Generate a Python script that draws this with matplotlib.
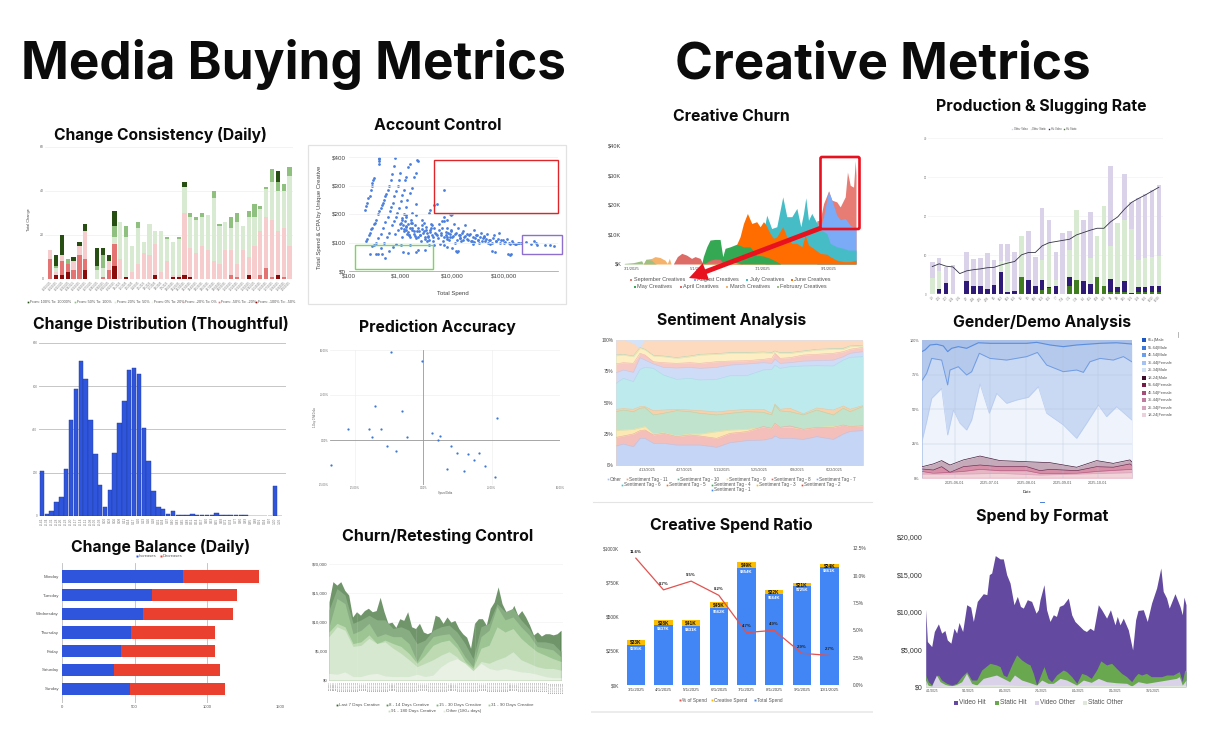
import matplotlib
matplotlib.use("Agg")
import matplotlib.pyplot as plt
from matplotlib.patches import FancyBboxPatch, Rectangle
import numpy as np
import pandas as pd

W, H = 1214, 751
plt.rcParams['font.family'] = ['Liberation Sans', 'DejaVu Sans']

# ---- Change Consistency (bottom to top segments)
cc_darkred = [0,2,2,3,0,0,4,0,0,0,0,6,0,1,0,0,0,0,2,0,0,1,1,2,1,0,0,0,0,0,0,0,0,0,2,0,0,0,0,2,0,0]
cc_red     = [9,0,6,4,4,11,5,0,0,1,4,10,0,0,0,0,0,0,0,0,0,0,0,0,0,0,0,0,0,0,0,2,1,0,0,0,2,5,1,0,1,0]
cc_pink    = [4,1,3,0,4,4,13,0,0,0,4,0,9,0,3,7,12,11,14,3,8,1,1,28,13,12,15,13,8,7,13,11,6,13,8,15,20,23,26,20,22,15]
cc_lgreen  = [0,2,0,0,0,0,0,0,4,4,0,3,17,18,12,16,5,14,6,19,10,15,16,12,14,15,13,16,29,17,13,10,19,11,18,13,10,13,17,18,17,32]
cc_mgreen  = [0,1,0,2,0,0,0,0,2,6,0,5,0,5,0,3,0,0,0,0,1,0,1,0,2,1,2,0,3,1,0,5,4,0,3,6,1,1,6,4,3,4]
cc_dgreen  = [0,5,9,0,2,2,3,0,8,3,3,7,0,0,0,0,0,0,0,0,0,0,0,2,0,0,0,0,0,0,0,0,0,0,0,0,0,0,0,5,0,0]
cc_labels = [d.strftime('%-m/%-d/%Y') for d in pd.date_range('2025-08-20', periods=42)]
cc_legend = ['From: 100% To: 10000%', 'From: 50% To: 100%', 'From: 20% To: 50%', 'From: 0% To: 20%',
             'From: -20% To: 0%', 'From: -50% To: -20%', 'From: -100% To: -50%']

# ---- Account Control (spend, cpa)
ac_spend = [205,215,225,235,250,265,275,285,295,305,375,385,390,380,
            215,225,240,255,270,285,300,320,340,365,385,410,430,450,475,500,530,560,600,640,680,730,790,
            280,330,370,410,450,500,560,610,660,700,760,810,880,930,980,
            480,540,600,680,740,800,860,930,1000,1080,1150,1210,1300,1400,1500,
            780,880,960,1050,1150,1250,1350,1500,1650,1800,1950,2100,2200,
            1000,1100,1150,1200,1250,1300,1350,1400,1500,1550,1600,1700,1800,1900,2000,2100,2200,2400,2500,2600,
            2800,3000,3100,3300,3500,3700,4000,4300,4500,4800,5200,5500,6000,6500,7000,7500,8000,8500,9000,9500,
            10000,11000,11500,12000,13000,14000,15000,16000,17000,18000,20000,22000,24000,26000,28000,30000,
            33000,36000,40000,44000,48000,52000,58000,65000,72000,80000,90000,100000,115000,130000,150000,170000,200000,
            5000,4500,3800,3500,7000,8000,10000,9000,6800,
            260,300,340,370,420,440,500,600,700,1100,1400,2000,2200,3000,3500,4500,800,1000,1500,
            10000,12000,12500,13000,8000,7000,60000,68000,120000,135000,140000,
            270000,330000,380000,420000,440000,640000,800000,950000,
            1300,1700,2300,2900,3400,4100,1050,1250,1450,1650,2000,2600,3200,3900,5800,6300,7800,9300,14500,19000,25000,31000,42000,55000,
            1000,1080,1180,1280,1380,1480,1580,1680,1780,1880,1980,2150,2350,2550,2750,2950,3150,3350,3650,3950,4250,4650,5050,
            5450,5950,6450,6950,7450,7950,8450,8950,9450,10500,11500,12500,13500,14500,15500,16500,18000,19500,21000,23000,25000,
            27000,29000,32000,35000,38000,41000,45000,50000,55000,62000,70000,78000,86000,95000,105000,125000,145000,165000,185000,220000]
ac_cpa = [215,228,240,255,262,285,300,310,320,325,375,385,392,395,
          105,112,125,135,148,150,165,170,180,200,210,220,230,240,250,262,270,285,300,320,340,370,395,
          88,100,115,130,150,172,190,210,225,240,262,280,300,320,345,
          100,120,135,160,175,190,205,220,245,265,285,320,330,365,375,
          130,145,165,180,200,225,250,275,290,330,345,390,385,
          150,160,140,175,155,145,130,165,150,120,180,145,130,160,115,140,150,125,105,160,
          140,120,155,135,110,145,125,105,150,130,115,165,135,105,175,125,150,110,130,195,
          120,165,100,135,150,115,105,140,120,160,110,130,105,145,115,125,
          100,135,115,105,130,110,100,125,105,135,110,100,112,95,100,95,100,
          235,230,215,205,190,180,200,200,285,
          60,90,60,60,80,60,45,70,85,65,62,65,75,75,90,90,95,90,90,
          80,70,65,70,85,90,70,65,60,55,58,
          103,95,105,100,90,92,90,88,
          195,170,140,170,120,160,120,190,125,205,235,180,105,165,95,175,120,145,125,130,95,110,120,95,
          170,185,148,158,138,128,168,152,142,122,198,118,128,148,132,112,145,122,138,152,118,135,125,
          145,128,152,118,138,112,132,120,142,122,130,110,125,115,135,108,122,112,128,105,118,
          102,125,110,118,104,122,112,98,108,115,104,112,100,108,102,98,105,96,98,97]

# ---- Change Distribution
cd_counts = [206,8,20,62,85,215,445,585,716,635,445,288,143,39,121,290,431,531,677,685,657,406,253,113,39,33,
             6,20,5,3,2,8,1,1,2,1,14,2,1,3,1,1,1,0,0,0,0,0,136,0]
cd_labels = ['-0.41','-0.34','-0.31','-0.28','-0.26','-0.23','-0.20','-0.17','-0.14','-0.11','-0.08','-0.06','-0.03',
             '0.00','0.03','0.06','0.08','0.11','0.14','0.17','0.20','0.23','0.26','0.28','0.31','0.34','0.37','0.40',
             '0.43','0.45','0.48','0.51','0.54','0.57','0.60','0.63','0.65','0.68','0.71','0.74','0.77','0.80','0.83',
             '0.85','0.88','0.91','0.94','0.97','1.00','1.06']

# ---- Prediction Accuracy
pa_spend_delta = [-11.95,-0.49,-17.8,-7.8,26.8,-27.6,-20.0,-15.7,-19.0,-5.9,3.0,6.0,5.4,-13.3,10.0,-9.9,12.4,16.2,20.4,18.4,-33.8,22.4,8.5,14.8,26.2]
pa_cpa_delta = [48.9,44.1,18.7,16.3,12.4,5.9,6.1,6.3,1.5,1.5,3.7,2.0,0,-3.3,-3.3,-6.1,-7.4,-7.6,-7.4,-11.3,-14.1,-14.3,-16.3,-17.2,-20.7]

# ---- Change Balance
cb_days = ['Monday','Tuesday','Wednesday','Thursday','Friday','Saturday','Sunday']
cb_increases = [835,622,558,476,405,361,467]
cb_decreases = [521,581,620,574,645,727,653]

# ---- Churn/Retesting Control (top edge of each layer, $)
rt_last7 = [13500,17000,16400,17000,15500,14700,10900,11800,11200,12000,12400,11800,12000,14300,11800,9800,10000,9100,10600,10300,
            11800,9200,8900,9800,8300,8000,8300,11200,10900,9800,10900,10000,10300,8900,8000,7400,5500,9800,10600,10600,
            9500,12400,13500,16100,13200,11800,11500,12900,11200,12000,10900,9500,7800,8300,7600,8000,8000,7800,8000,8600]
rt_8_14 = [12100,15800,14700,9800,10400,11200,10400,10400,8900,9200,8600,6300,6900,8600,9200,9500,8300,6300,3700,9200,9800,13200,11800,12400,10400,8900,6600,6600,6300,4900]
rt_15_30 = [9200,14100,13200,8000,8600,9800,7500,8000,7500,7500,6300,3200,5800,7500,7800,8000,6300,4000,2300,7500,8600,12700,10400,10900,9200,7800,5800,5500,5200,4000]
rt_31_90 = [8300,9800,9200,6300,6600,7800,6300,6900,6300,5800,4600,2900,4300,6000,6600,6900,5500,3200,2000,5500,6000,9200,8300,8900,7200,6000,4900,4300,3700,3200]
rt_91_180 = [7500,9200,8600,5800,6000,7200,6300,6600,5500,4600,3500,2300,2900,3500,4300,4900,4000,2300,1600,3200,2900,3500,4000,4900,3500,2900,2300,2000,2000,1700]
rt_other = [1150,1000,1400,600,600,1000,1150,700,600,600,600,1000,600,850,2300,3200,3700,2900,1600,2900,2000,1700,2000,1700,1400,1300,1000,600,400,400]
rt_labels = [d.strftime('%-m/%-d/%Y') for d in pd.date_range('2025-03-01', periods=120, freq='2D')]
rt_legend = ['Last 7 Days Creative','8 - 14 Days Creative','15 - 30 Days Creative','31 - 90 Days Creative','91 - 180 Days Creative','Other (180+ days)']

# ---- Creative Churn (day, top edge in $K)
feb_d = [0,8.4,16.2,17.8,20.3,25.6,28.8,30.3]
feb_k = [.2,.45,1.1,0,1.6,1.3,.2,0]
mar_d = [17.8,20.3,25.6,28.8,33.4,38.1,40.3,42.2,43.8,61.6,74,86.6,102,110]
mar_k = [0,1.6,1.9,2.5,2.2,1.3,.2,1.9,0,0,.2,.2,.55,0]
apr_d = [45.9,49.7,53.8,58.4,63,66.3,71,73.4,75.6,80.3,85,89.7,92.2,99,105,111.6]
apr_k = [0,2.5,3.6,3,1.9,2.5,1.9,.2,.2,1.3,1.7,1.6,.45,.2,.45,0]
may_d = [72.5,74,77.2,80.3,85,89.7,92.2,94.4,99,105.3,111.6,117.8,124,130.3,136.6,142.8,146.6]
may_k = [0,2.5,5.8,8.1,8.3,8.3,2.5,5.3,5.8,6.7,5.8,5.8,3,2.7,1.9,.8,0]
jun_d = [105.3,108.4,111.6,115.3,119.4,124,127.2,130.3,131.9,136.6,139.7,142.8,148.4,152.2,156.9,161.6,166.3,169.4,172.5,177.2,183.4,189.7,192.8,199,205.3,211.6,217]
jun_k = [6.7,9.2,13.7,17.1,13.7,14.3,12.6,14.3,13.7,10.3,8.7,9.2,12.6,9.2,7,7,5.8,9.8,6.4,5.3,3.6,3.3,2.5,1.3,.8,.8,1.3]
jul_d = [131.9,133.4,138,142.8,148.4,152.2,156.9,161.6,165.3,167.8,170,172.5,175.6,179.7,183.4,189.7,192.8,199,205.3,210,217]
jul_k = [13.7,16.5,12,12.6,22.7,16,16,18.8,12.6,17.1,22.4,14.8,17.1,14.3,11.7,10.3,7,5.8,5.3,4.7,4.7]
aug_d = [180.3,183.4,186.6,191.3,194.4,199,202.2,206.9,211.6,217]
aug_k = [14.3,12,16,24.7,21.6,16.5,15,15.4,13.1,12]
sep_d = [180.3,183.4,186.6,191.3,194.4,199,202.2,206.9,209,211.6,214.7,216.3,217]
sep_k = [14.6,14.8,20.4,24.7,21.6,21,19.3,22.7,31.1,26.6,26,35,30]

# ---- Production & Slugging Rate
ps_hit_static = [0,.4,0,0,0,0,0,0,0,0,0,0,0,4.5,0,0,1.2,1.5,0,0,2.1,3.6,0,0,4.3,2.1,.7,.7,.7,0,.7,.7,.7,.7]
ps_hit_video  = [0,.9,2.8,0,0,3.4,2.1,2.0,1.3,2.4,5.8,.7,.9,0,3.7,2.1,2.4,.4,2.0,0,2.2,0,3.3,2.6,0,0,3.2,1.1,2.6,.3,1.1,1.2,1.3,1.4]
ps_other_static = [4.1,4.6,0,0,0,0,0,0,0,0,2.7,7.7,0,10.4,0,0,5.2,10.9,1.7,0,7,18.1,0,6.6,10.6,20.5,8.5,16.5,15.8,16.5,7,7.3,7.5,7.6]
ps_other_video = [4.1,3.5,4.3,7.5,0,7.5,6.9,7.2,9.3,6.4,4.3,4.5,10,0,12.4,7.5,13.4,6.3,7,15.6,5,0,15.7,11.8,0,0,20.4,0,11.7,6.8,15.8,16.4,17.2,18.3]
ps_line = [7.1,7.8,7.2,7.0,5.3,6.0,6.3,6.5,6.8,6.9,7.5,8.0,8.4,10.1,10.7,10.7,12.4,13.2,13.5,13.8,14.1,15.2,15.8,16.4,16.9,16.9,18.6,19.8,21.8,23.5,24.5,25.4,26.4,27.4]
ps_labels = [d.strftime('%-m/%-d') for d in pd.date_range('2025-03-03', periods=34, freq='7D')]

# ---- Sentiment Analysis (day, top edge of each tag in %)
se_days = [0,2.75,6.5,9,10.9,14,17.75,22.75,27.75,31.5,37.75,42.75,49,55.25,58.4,59.6,61.5,65.25,70.25,75.25,81.5,85.25,87.75,92.5]
se_tag1 = [15.4,17,14.9,21.5,21.5,17.6,17.6,16.2,16.2,16.2,14.4,18.1,19.7,20.2,21.5,23.4,21.5,21.5,20.7,22.9,20.7,25,27.1,27.7]
se_tag2 = [22.3,23.4,25,27.7,28.2,24.2,25.5,22.9,24.2,23.4,21.5,25.5,26.9,30.9,29.5,33.5,30.3,31.4,28.7,30.3,30.3,32.2,30.9,31.6]
se_tag3 = [27.7,28.2,28.7,30,30.9,25,26,23.4,25,25,26.9,28.2,28.7,30.3,29.5,33,30.3,30.3,28.7,30.3,30.9,32.2,30.9,31.6]
se_tag4 = [42.8,44.1,42.8,45.5,46,40.2,41.5,43.6,42.8,41.5,40.2,41.5,42.8,42.3,40.2,48.1,43.4,42.8,40.2,44.1,40.2,45.5,42.8,46.8]
se_tag5 = [44.7,45.2,44.7,46.8,46.8,43.6,44.1,44.7,44.1,43.6,42.6,43.6,44.7,44.7,41.5,48.9,44.7,45.5,41,45.7,44.1,47.3,44.7,47.6]
se_tag6 = [65.4,69.4,66.8,76.6,78.2,77.4,72.1,68.6,69.4,68.1,68.6,71.5,71.5,76.1,76.6,80,77.4,78.7,79.3,79.5,79.3,84,86.2,86.7]
se_tag7 = [73.9,76.1,74.2,85.9,84,80.9,78.2,77.7,78.2,77.4,78.2,80,80.9,81.9,81.4,84.8,81.4,81.9,83.2,83.5,84,86.7,89.4,90.7]
se_tag8 = [80.9,81.9,81.4,89.4,88,82.7,81.9,81.4,81.9,81.4,82.7,83.2,83.5,84.6,85.4,89.4,85.4,85.9,88,88.6,89.4,90.7,92.6,94.1]
se_tag9 = [87.5,88,86.7,93.4,92,87.2,86.7,85.4,86.7,88,88.6,89.4,89.4,89.9,89.4,90.7,89.4,89.4,90.7,92,92.6,92.6,94.7,95.2]
se_tag10 = [88,88.5,87.2,93.9,92.5,87.7,87.2,85.9,87.2,88.5,89.1,89.9,89.9,90.4,89.9,91.2,89.9,89.9,91.2,92.5,93.1,93.4,95.2,95.7]
se_tag11 = [100,100,97,92.5,100,100,100,100,100,100,100,100,100,100,100,100,100,100,100,100,100,100,100,100]
se_other = [100]*24
se_ticklabels = ['4/13/2025','4/27/2025','5/11/2025','5/25/2025','6/8/2025','6/22/2025']
se_legend1 = ['Other','Sentiment Tag - 11','Sentiment Tag - 10','Sentiment Tag - 9','Sentiment Tag - 8','Sentiment Tag - 7']
se_legend2 = ['Sentiment Tag - 6','Sentiment Tag - 5','Sentiment Tag - 4','Sentiment Tag - 3','Sentiment Tag - 2']

# ---- Gender/Demo Analysis (days from 2025-06-01, top edge %)
gd_l1_d = [-27.6,-25.3,-21,-15.3,-9.7,-6,-2.6,3.1,10.2,20.2,30.1,44.3,61.4,69.9,81.3,92.6,104,112.5,123.9,138,150.9]
gd_l1 = [91.8,92.8,96.4,96.9,95.7,91.6,94,95.2,94,98,97.6,97.6,97.6,98.3,96.4,95.2,96.4,96.9,97.6,98,97.1]
gd_l2_d = [-27.6,-23.9,-19.6,-11.1,-6,-4,3.1,10.2,14.5,21,30.1,44.3,61.4,70.5,78.4,92.6,104,109.7,115.3,123.9,135.2,143.8,150.9]
gd_l2 = [71,75.9,86.7,85.5,67.5,78.3,80.7,74.7,77.1,90.4,86.7,85.5,88,91,81.9,77.1,78.3,76.6,84.3,86.7,85.5,88,84.3]
gd_l3_d = [-27.6,-23.9,-19.6,-11.1,-6,-1.1,4.5,10.2,14.5,21.6,29.5,35.8,44.3,52.8,62.8,71.3,78.4,92.6,104,112.5,122.4,129.5,138,150.9]
gd_l3 = [27.7,41,57.8,65,31.3,49.4,39.8,34.9,42.2,68.2,47,61.4,54.2,56.6,58.6,66.3,47,38.6,28.9,39.8,53,44.6,51.8,42.2]
gd_m1_d = [-27.6,-18.2,-11.1,-4,7.4,21.6,38.6,61.4,81.3,104,121,135.2,149.4,150.9]
gd_m1 = [8.4,10.4,12.8,9.6,13.3,16.1,12.8,12,11.3,8,12.8,10.8,13.3,12]
gd_m2_d = [-27.6,-18.2,-11.1,-4,7.4,21.6,38.6,61.4,72.8,81.3,104,121,135.2,149.4,150.9]
gd_m2 = [6.7,6,8.4,4.3,8.4,9.6,8.4,8.4,5.5,6.5,5.5,8.4,8,10.4,9.5]
gd_m3_d = [-27.6,-18.2,7.4,21.6,38.6,61.4,72.8,104,121,150.9]
gd_m3 = [5,3.6,5,6.5,5.5,5.5,3.6,3.6,5,6.5]
gd_m4_d = [-27.6,7.4,38.6,72.8,150.9]
gd_m4 = [3.1,3.1,3.6,2.4,4.1]
gd_ticklabels = ['2025-06-01','2025-07-01','2025-08-01','2025-09-01','2025-10-01']
gd_legend = ['65+|Male','55-64|Male','45-54|Male','35-44|Female','25-34|Male','18-24|Male','55-64|Female','45-54|Female','35-44|Female','25-34|Female','18-24|Female']

# ---- Creative Spend Ratio
cs_months = ['3/1/2025','4/1/2025','5/1/2025','6/1/2025','7/1/2025','8/1/2025','9/1/2025','10/1/2025']
cs_total = [295,437,431,562,854,664,725,861]
cs_creative = [33,38,41,45,49,32,21,24]
cs_pct = [11.6,8.7,9.5,8.2,4.8,5.0,2.9,2.7]
cs_pct_labels = ['11.6%','8.7%','9.5%','8.2%','4.7%','4.9%','2.9%','2.7%']

# ---- Spend by Format (day, top edge $)
sf_hit_d = [0,1.4,5,7.2,10.6,13.3,16,18,21,23.6,25.8,27.8,30.8,34.2,37.5,39.7,43,48,51,53,55,58,62,64.7,67.5,70.3,73.6,76.4,79,81.4,
            84.7,88.3,92,93.9,95.3,98.6,100.8,103.6,106.4,109,111.4,114.7,118.9,121.7,124.4,128.6,131.4,134,137,140,143.9,146.7,150.8,
            154,157.8,159.7,162,164.7,168.9,172.5,175,177,181.4,184.7,188.3,192.5,196,198,200.8,203,207.8,212,213.9,215.3,217]
sf_hit = [10350,6020,5350,7360,8380,7140,7490,6240,5800,7800,7140,8560,7360,10930,10610,8700,11370,12400,12270,14940,15160,17480,17040,17040,14940,13830,10930,12040,10700,10480,
          11600,11370,9810,10260,11600,13600,10260,8700,9590,9370,10700,10930,11820,9590,8700,8030,7580,7360,7800,7490,10930,10260,9140,
          10260,8250,9370,8250,9140,7580,4910,8920,10170,10260,8700,11150,13160,15830,12710,11820,10480,12400,10700,9590,11950,10930]
sf_static_d = [0,2.2,5,7.8,10.6,13.3,17.5,21.7,25.8,30,34.2,38.3,42.5,46.7,51,53.6,59,62,64.7,67.5,71.7,75.8,80,84.2,87,89.7,92.5,95.3,98.6,102,
               105,109,114.7,117.5,121.7,126,130,134,138,142.5,146,150.8,155,159,163.3,167.5,171.7,174.5,177,180,184,188,192.5,196.7,200.8,206.4,211.4,213.9,216,217]
sf_static = [1560,670,220,1110,1560,890,450,220,450,1340,2010,890,890,2230,2790,3120,2900,2680,1560,1340,2900,4240,3570,3120,2900,1780,220,1340,2680,1110,
             670,1560,2230,2010,1340,450,1780,1560,1110,2230,3440,2900,3120,2450,1780,1340,670,1340,1780,1560,1780,1340,1340,1340,1560,1560,2010,670,2230,2010]
sf_voth_d = [0,2.2,5,9,12,16,21.7,25.8,30,34,38.3,42.5,48,53.6,59,64.7,70,74,80,87,92.5,96.7,102,106.4,112,117.5,125.8,131.4,138,143.9,150.8,159,167.5,171.7,177,184,192.5,200.8,209,211.4,213.9,217]
sf_voth = [890,90,90,1560,670,310,90,310,670,1780,450,220,1110,1340,1560,1110,670,1560,890,530,220,890,450,450,1110,890,220,890,580,1110,670,530,450,90,670,450,670,890,1110,1340,220,890]
sf_soth_d = [0,5,30,60,80,100,140,180,217]
sf_soth = [300,50,200,300,150,100,200,100,200]
sf_ticklabels = ['4/1/2025','5/1/2025','6/1/2025','7/1/2025','8/1/2025','9/1/2025','10/1/2025']

fig = plt.figure(figsize=(W/100, H/100), dpi=100, facecolor='white')


def add_ax(l, t, r, b):
    ax = fig.add_axes([l/W, 1-b/H, (r-l)/W, (b-t)/H])
    ax.set_facecolor('none')
    for s in ax.spines.values():
        s.set_visible(False)
    ax.tick_params(length=0)
    return ax


# overlay in picture pixels, for titles, legends and marked boxes
ov = fig.add_axes([0, 0, 1, 1], zorder=20)
ov.set_xlim(0, W)
ov.set_ylim(H, 0)
ov.axis('off')


def title(txt, cx, cy, width):
    t = ov.text(cx, cy, txt, ha='center', va='center', fontsize=20, weight='bold',
                family=['Inter', 'DejaVu Sans'], color='#0b0b0b')
    w = t.get_window_extent(fig.canvas.get_renderer()).width
    t.set_fontsize(20*width/w)


def legend(items, size, tcol='#555555', ms=1.6, gap=None):
    # items: label, colour, marker x, y
    for lab, col, x, y in items:
        ov.plot([x], [y], 's', color=col, ms=ms, mew=0)
        ov.text(x+(gap if gap else ms*1.6), y, lab, fontsize=size, color=tcol, va='center', ha='left')


titles = [('Media Buying Metrics', 293.5, 65, 547), ('Creative Metrics', 883, 65, 416),
          ('Change Consistency (Daily)', 160.7, 134.7, 213), ('Account Control', 437.3, 125.7, 128),
          ('Change Distribution (Thoughtful)', 160.7, 323.7, 256), ('Prediction Accuracy', 437, 327.3, 157),
          ('Change Balance (Daily)', 160.3, 546.7, 179), ('Churn/Retesting Control', 437.3, 536.7, 192),
          ('Creative Churn', 731.7, 116.7, 117), ('Production & Slugging Rate', 1041.7, 106.7, 211),
          ('Sentiment Analysis', 731.7, 320.7, 149), ('Gender/Demo Analysis', 1041.7, 322.7, 178),
          ('Creative Spend Ratio', 731.7, 525.7, 163), ('Spend by Format', 1041.7, 516.7, 133)]
for t in titles:
    title(*t)

# ---------------- Change Consistency
ax = add_ax(45, 147, 293, 279)
x = np.arange(42)
bottom = np.zeros(42)
cc_cols = ['#8b0a0a', '#e47474', '#f6cccc', '#d8ebd2', '#8fc080', '#274e13']
for vals, c in zip([cc_darkred, cc_red, cc_pink, cc_lgreen, cc_mgreen, cc_dgreen], cc_cols):
    ax.bar(x, vals, 0.72, bottom=bottom, color=c)
    bottom += np.array(vals)
ax.set_xlim(-0.9, 41.6)
ax.set_ylim(0, 60)
ax.set_yticks([0, 20, 40, 60])
ax.set_yticklabels(['0', '20', '40', '60'], fontsize=2.5, color='#666666')
ax.grid(axis='y', color='#efefef', lw=0.5)
ax.set_axisbelow(True)
ax.set_xticks(x)
ax.set_xticklabels(cc_labels, fontsize=1.9, color='#777777', rotation=45, ha='right', rotation_mode='anchor')
ax.tick_params(pad=1)
ov.text(29, 220, 'Total Change', fontsize=2.8, rotation=90, ha='center', va='center', color='#444444')
legend(list(zip(cc_legend, ['#274e13', '#8fc080', '#d8ebd2', '#eef5ea', '#f6cccc', '#e47474', '#8b0a0a'],
                [28.3, 75, 115, 151.7, 183.3, 219.3, 256], [301.7]*7)), 2.7, ms=1.2)

# ---------------- Account Control
ov.add_patch(Rectangle((308.3, 145), 257.7, 159.3, fc='none', ec='#e2e2e2', lw=0.9))
ax = add_ax(349, 157, 558, 271)
ax.scatter(ac_spend, ac_cpa, s=4, color='#4a7fdc', lw=0)
ax.set_xscale('log')
ax.set_xlim(100, 10**(2+(775-147)/155))
ax.set_ylim(0, 400)
ax.minorticks_off()
ax.set_xticks([100, 1000, 10000, 100000])
ax.set_xticklabels(['$100', '$1,000', '$10,000', '$100,000'], fontsize=4.5, color='#444444')
ax.set_yticks([0, 100, 200, 300, 400])
ax.set_yticklabels(['$0', '$100', '$200', '$300', '$400'], fontsize=4.5, color='#444444')
ax.grid(axis='y', color='#efefef', lw=0.5)
ax.spines['bottom'].set_visible(True)
ax.spines['bottom'].set_color('#999999')
ax.spines['bottom'].set_linewidth(0.5)
ax.tick_params(pad=2)
ov.text(453, 293, 'Total Spend', fontsize=4.3, ha='center', va='center', color='#444444')
ov.text(319, 217, 'Total Spend & CPA by Unique Creative', fontsize=4.3, rotation=90, ha='center', va='center', color='#444444')
ov.add_patch(Rectangle((434, 160), 123.7, 53.3, fc='none', ec='#e0252a', lw=1))
ov.add_patch(Rectangle((355.3, 245), 78, 23.7, fc='none', ec='#7bd55f', lw=1))
ov.add_patch(Rectangle((522, 235.3), 39.7, 18.7, fc='none', ec='#8e6fd0', lw=1))

# ---------------- Change Distribution
ax = add_ax(39, 343, 286, 515.7)
x = np.arange(50)
ax.bar(x, cd_counts, 0.92, color='#2f55dc', ec='#1e3a9c', lw=0.3, zorder=3)
ax.set_xlim(-0.6, 50.3)
ax.set_ylim(0, 800)
ax.set_yticks([0, 200, 400, 600, 800])
ax.set_yticklabels(['0', '200', '400', '600', '800'], fontsize=2.2, color='#777777')
ax.grid(axis='y', color='#c6c6c6', lw=0.7)
ax.set_axisbelow(True)
ax.set_xticks(x)
ax.set_xticklabels(cd_labels, fontsize=2.3, color='#777777', rotation=90)
ax.tick_params(pad=1.2)

# ---------------- Prediction Accuracy
ax = add_ax(330, 350, 560, 485)
ax.scatter(pa_spend_delta, pa_cpa_delta, s=2.6, color='#3c78d8', lw=0, zorder=3)
ax.set_xlim(-34.2, 50)
ax.set_ylim(-25, 50)
ax.set_xticks([-25, 0, 25, 50])
ax.set_xticklabels(['-25.00%', '0.00%', '25.00%', '50.00%'], fontsize=1.9, color='#666666')
ax.set_yticks([-25, 0, 25, 50])
ax.set_yticklabels(['-25.00%', '0.00%', '25.00%', '50.00%'], fontsize=1.9, color='#666666')
ax.grid(color='#ececec', lw=0.4)
ax.axhline(0, color='#9a9a9a', lw=0.6)
ax.axvline(0, color='#9a9a9a', lw=0.6)
ax.tick_params(pad=1)
ov.text(445, 493, 'Spend Delta', fontsize=1.9, ha='center', va='center', color='#555555')
ov.text(315, 417, '1-Day CPA Delta', fontsize=1.9, rotation=90, ha='center', va='center', color='#555555')

# ---------------- Change Balance
ax = add_ax(61.7, 563.3, 280.3, 702.7)
y = np.arange(7)
ax.barh(y, cb_increases, 0.655, color='#2f55dc', zorder=3)
ax.barh(y, cb_decreases, 0.655, left=cb_increases, color='#ea4030', zorder=3)
ax.set_xlim(0, 1500)
ax.set_ylim(6.75, -0.7)
ax.set_yticks(y)
ax.set_yticklabels(cb_days, fontsize=3.2, color='#555555')
ax.set_xticks([0, 500, 1000, 1500])
ax.set_xticklabels(['0', '500', '1000', '1500'], fontsize=3, color='#555555')
ax.grid(axis='x', color='#bdbdbd', lw=0.6)
ax.set_axisbelow(True)
ax.tick_params(pad=2)
legend([('Increases', '#2f55dc', 136.5, 555.7), ('Decreases', '#ea4030', 160.5, 555.7)], 3, ms=1.4)

# ---------------- Churn/Retesting Control
ax = add_ax(329, 564.3, 563, 680)
days_fine = np.arange(60)*4
days_coarse = np.linspace(0, 236, 30)
rt_cols = ['#628a5c', '#7da576', '#93bf88', '#b7d7ac', '#d2e6cb', '#e6f0e2']
ax.fill_between(days_fine, 0, rt_last7, color=rt_cols[0], lw=0)
for vals, c in zip([rt_8_14, rt_15_30, rt_31_90, rt_91_180, rt_other], rt_cols[1:]):
    ax.fill_between(days_coarse, 0, vals, color=c, lw=0)
# the original is daily bars, the thin gaps show as faint stripes
ax.vlines(np.arange(0, 236, 2), 0, 20000, color='white', lw=0.3, alpha=0.45)
ax.set_xlim(0, 236)
ax.set_ylim(0, 20000)
ax.set_yticks([0, 5000, 10000, 15000, 20000])
ax.set_yticklabels(['$0', '$5,000', '$10,000', '$15,000', '$20,000'], fontsize=3.2, color='#555555')
ax.grid(axis='y', color='#efefef', lw=0.4)
ax.set_axisbelow(True)
ax.set_xticks(np.arange(120)*2)
ax.set_xticklabels(rt_labels, fontsize=1.6, color='#666666', rotation=90)
ax.tick_params(pad=1)
legend(list(zip(rt_legend, ['#38691f', '#5c8f4c', '#7eb56d', '#9fce8f', '#c3e0b8', '#dfeeda'],
                [336.7, 387.3, 436.7, 489, 389.3, 444], [705.3]*4+[710.7]*2)), 3.2, ms=1.3, gap=2)

# ---------------- Creative Churn
ax = add_ax(624.3, 145.7, 856, 264)
cohorts = [(sep_d, sep_k, '#e67c73'), (aug_d, aug_k, '#7baaf7'), (jul_d, jul_k, '#46bdc6'), (jun_d, jun_k, '#ff6d01'),
           (may_d, may_k, '#34a853'), (apr_d, apr_k, '#dd6b66'), (mar_d, mar_k, '#f5b26b'), (feb_d, feb_k, '#9cc183')]
for d, k, c in cohorts:
    ax.fill_between(d, 0, k, color=c, lw=0)
ax.set_xlim(0, 217)
ax.set_ylim(0, 40)
ax.set_yticks([0, 10, 20, 30, 40])
ax.set_yticklabels(['$K', '$10K', '$20K', '$30K', '$40K'], fontsize=4.1, color='#444444')
ax.set_xticks([0, 61, 122, 184])
ax.set_xticklabels(['3/1/2025', '5/1/2025', '7/1/2025', '9/1/2025'], fontsize=3, color='#555555', ha='left')
ax.tick_params(pad=2)
legend([('September Creatives', '#e67c73', 631.3, 279.7), ('August Creatives', '#7baaf7', 694.7, 279.7),
        ('July Creatives', '#46bdc6', 747.3, 279.7), ('June Creatives', '#ff6d01', 792, 279.7),
        ('May Creatives', '#34a853', 635, 286.7), ('April Creatives', '#dd6b66', 680.7, 286.7),
        ('March Creatives', '#f5b26b', 727.3, 286.7), ('February Creatives', '#9cc183', 777.7, 286.7)], 4, ms=2, gap=2.4)
ov.add_patch(FancyBboxPatch((820.5, 157), 39, 72, boxstyle='round,pad=0,rounding_size=1.5', fc='none', ec='#e8121f', lw=1.9))
ov.annotate('', xy=(689, 278), xytext=(821, 228),
            arrowprops=dict(arrowstyle='simple,head_width=1.3,head_length=1.3,tail_width=0.35', mutation_scale=10,
                            color='#e8121f', lw=0, shrinkA=0, shrinkB=0))

# ---------------- Production & Slugging Rate
ax = add_ax(928.3, 138, 1163, 294.3)
x = np.arange(34)
bottom = np.zeros(34)
ps_cols = ['#3f7d20', '#2f1a78', '#d9ead3', '#d9d2e9']
for vals, c in zip([ps_hit_static, ps_hit_video, ps_other_static, ps_other_video], ps_cols):
    ax.bar(x, vals, 0.68, bottom=bottom, color=c, zorder=2)
    bottom += np.array(vals)
ax.plot(x, ps_line, color='#333344', lw=0.6, zorder=3)
ax.set_xlim(-0.58, 33.6)
ax.set_ylim(0, 40)
ax.set_yticks([0, 10, 20, 30, 40])
ax.set_yticklabels(['0', '10', '20', '30', '40'], fontsize=2, color='#777777')
ax.grid(axis='y', color='#efefef', lw=0.4)
ax.set_axisbelow(True)
ax.set_xticks(x)
ax.set_xticklabels(ps_labels, fontsize=1.9, color='#777777', rotation=45, ha='right', rotation_mode='anchor')
ax.tick_params(pad=1)
legend([('Other Video', '#d9d2e9', 1012.3, 129.3), ('Other Static', '#d9ead3', 1030.7, 129.3),
        ('Hit Video', '#2f1a78', 1049.3, 129.3), ('Hit Static', '#3f7d20', 1064.3, 129.3)], 1.9, ms=1, gap=1.5)

# ---------------- Sentiment Analysis
ax = add_ax(616, 340, 862.7, 465.3)
se_layers = [(se_other, '#d5e3f8', '#d5e3f8'), (se_tag11, '#fdd9bd', '#fdd9bd'), (se_tag10, '#c0e5cf', '#a9d8bb'),
             (se_tag9, '#fdefc3', '#fde9ac'), (se_tag8, '#f7c9c5', '#f2b5b0'), (se_tag7, '#cfdcf8', '#b9ccf4'),
             (se_tag6, '#bdeaec', '#a5dfe3'), (se_tag5, '#fbcfa8', '#f9bf8c'), (se_tag4, '#bfe3cc', '#a6d8b8'),
             (se_tag3, '#fce8b2', '#fbe09a'), (se_tag2, '#f4bfbb', '#f0aba6'), (se_tag1, '#c5d5f6', '#b0c6f2')]
for vals, c, e in se_layers:
    ax.fill_between(se_days, 0, vals, color=c, lw=0)
    ax.plot(se_days, vals, color=e, lw=0.4)
ax.set_xlim(0, 92.5)
ax.set_ylim(0, 100)
ax.set_yticks([0, 25, 50, 75, 100])
ax.set_yticklabels(['0%', '25%', '50%', '75%', '100%'], fontsize=3.4, color='#444444')
ax.set_xticks([11.75, 25.75, 39.75, 53.75, 67.75, 81.75])
ax.set_xticklabels(se_ticklabels, fontsize=2.7, color='#555555')
ax.tick_params(pad=2)
se_c1 = ['#a4c2f4', '#ff9e5e', '#57bb8a', '#ffd966', '#e06666', '#7baaf7']
se_c2 = ['#46bdc6', '#ff6d01', '#34a853', '#fbbc04', '#ea4335']
se_x1 = [607.7, 626.7, 678.3, 726.7, 771.7, 816.7]
se_x2 = [622.3, 667.3, 712.3, 757.3, 802.3]
legend(list(zip(se_legend1, se_c1, se_x1, [479.3]*6)), 3.3, ms=1.2, gap=2)
legend(list(zip(se_legend2, se_c2, se_x2, [484.7]*5)), 3.3, ms=1.2, gap=2)
legend([('Sentiment Tag - 1', '#4285f4', 712.3, 490)], 3.3, ms=1.2, gap=2)
ov.plot([593, 872], [501.7, 501.7], color='#e4e4e4', lw=0.8)

# ---------------- Gender/Demo Analysis
ax = add_ax(922.3, 340, 1131.7, 478.3)
ax.fill_between([-27.6, 150.9], 0, [100, 100], color='#a9c0e8', lw=0)
ax.fill_between(gd_l1_d, 0, gd_l1, color='#b5c9ec', lw=0)
ax.fill_between(gd_l2_d, 0, gd_l2, color='#c9d9f4', lw=0)
ax.fill_between(gd_l3_d, 0, gd_l3, color='#eef3fc', lw=0)
ax.plot(gd_l1_d, gd_l1, color='#5b8ede', lw=0.8)
ax.plot(gd_l2_d, gd_l2, color='#6f9ce3', lw=0.7)
ax.plot(gd_l3_d, gd_l3, color='#b7cbef', lw=0.5)
for d, v, c, e in [(gd_m1_d, gd_m1, '#c5abba', '#4a1a38'), (gd_m2_d, gd_m2, '#d68fa6', '#7a2a52'),
                   (gd_m3_d, gd_m3, '#e7b6c4', '#b85f85'), (gd_m4_d, gd_m4, '#f1d3da', '#dba5bb')]:
    ax.fill_between(d, 0, v, color=c, lw=0)
    ax.plot(d, v, color=e, lw=0.5)
ax.set_xlim(-27.6, 150.9)
ax.set_ylim(0, 100)
ax.set_xticks([0, 30, 61, 92, 122])
ax.set_xticklabels(gd_ticklabels, fontsize=2.7, color='#555555')
ax.set_yticks([0, 25, 50, 75, 100])
ax.set_yticklabels(['0%', '25%', '50%', '75%', '100%'], fontsize=2.7, color='#555555')
ax.grid(color='#b6c0d2', lw=0.35, alpha=0.7)
ax.tick_params(pad=2)
ov.text(1026.7, 492.3, 'Date', fontsize=2.9, weight='bold', ha='center', va='center', color='#555555')
gd_cols = ['#1a56c4', '#3c78d8', '#6d9eeb', '#a4c2f4', '#cfe2f3', '#3d0c2a', '#741b47', '#a64d79', '#c27ba0', '#d5a6bd', '#ead1dc']
gd_y = [340, 347.7, 355, 362.7, 370, 377.7, 385, 392.7, 400, 407.7, 415]
legend(list(zip(gd_legend, gd_cols, [1144.3]*11, gd_y)), 2.9, ms=2.7, gap=3.7)
ov.plot([1039.5, 1043.5], [502, 502], color='#4a7fdc', lw=0.7)
ov.plot([1178, 1178], [332, 337], color='#aaaaaa', lw=0.6)

# ---------------- Creative Spend Ratio
ax = add_ax(622, 548.3, 843.3, 685)
x = np.arange(8)
ax.bar(x, cs_total, 0.66, color='#4285f4')
ax.bar(x, cs_creative, 0.66, bottom=cs_total, color='#fbbc04')
for i in x:
    ax.text(i, cs_total[i]-30, '$%dK' % cs_total[i], ha='center', va='center', fontsize=3.1, color='white', weight='bold')
    ax.text(i, cs_total[i]+cs_creative[i]/2, '$%dK' % cs_creative[i], ha='center', va='center', fontsize=3.4, color='#111111', weight='bold')
ax.set_xlim(-0.5, 7.5)
ax.set_ylim(0, 1000)
ax.set_yticks([0, 250, 500, 750, 1000])
ax.set_yticklabels(['$0K', '$250K', '$500K', '$750K', '$1000K'], fontsize=3.4, color='#444444')
ax.set_xticks(x)
ax.set_xticklabels(cs_months, fontsize=3.2, color='#444444')
ax.tick_params(pad=2)
ax2 = ax.twinx()
ax2.set_facecolor('none')
for s in ax2.spines.values():
    s.set_visible(False)
ax2.plot(x, cs_pct, color='#e2524f', lw=0.9)
for i in x:
    ax2.annotate(cs_pct_labels[i], (i, cs_pct[i]), xytext=(0, 4.5), textcoords='offset points', ha='center', va='center',
                 fontsize=3.1, weight='bold', color='#222222')
ax2.set_ylim(0, 12.5)
ax2.set_yticks([0, 2.5, 5, 7.5, 10, 12.5])
ax2.set_yticklabels(['0.0%', '2.5%', '5.0%', '7.5%', '10.0%', '12.5%'], fontsize=3.4, color='#444444')
ax2.tick_params(length=0, pad=7)
legend([('% of Spend', '#e2524f', 680, 700.3), ('Creative Spend', '#fbbc04', 712.3, 700.3), ('Total Spend', '#4285f4', 755.3, 700.3)], 3.4, ms=1.4, gap=2)
ov.plot([592, 872], [711.7, 711.7], color='#ececec', lw=1.4)

# ---------------- Spend by Format
ax = add_ax(925.7, 536.7, 1186, 686.7)
ax.fill_between(sf_hit_d, 0, sf_hit, color='#6349a0', lw=0)
ax.fill_between(sf_static_d, 0, sf_static, color='#6aa84f', lw=0)
ax.fill_between(sf_voth_d, 0, sf_voth, color='#d9d2e9', lw=0)
ax.fill_between(sf_soth_d, 0, sf_soth, color='#dfe8da', lw=0)
ax.set_xlim(0, 217)
ax.set_ylim(0, 20000)
ax.set_yticks([0, 5000, 10000, 15000, 20000])
ax.set_yticklabels(['$0', '$5,000', '$10,000', '$15,000', '$20,000'], fontsize=5.1, color='#333333')
ax.set_xticks([0, 30, 61, 91, 122, 153, 183])
ax.set_xticklabels(sf_ticklabels, fontsize=2.3, color='#555555', ha='left')
ax.tick_params(pad=2)
legend([('Video Hit', '#6349a0', 956.3, 702.7), ('Static Hit', '#6aa84f', 996.7, 702.7),
        ('Video Other', '#d9d2e9', 1036.7, 702.7), ('Static Other', '#dfe8da', 1085.3, 702.7)], 4.8, ms=2.2, gap=3)

fig.savefig('out.png', dpi=100, facecolor='white')
